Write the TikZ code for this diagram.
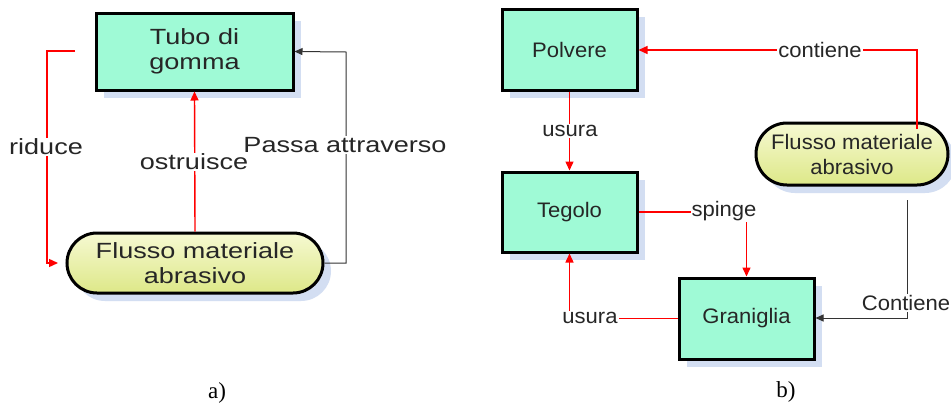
\documentclass[tikz,border=0pt]{standalone}
\usepackage{fontspec}
\setmainfont{Liberation Sans}
\newfontfamily\lfont[FakeStretch=1.23]{Liberation Sans}
\newfontfamily\rfont[FakeStretch=1.05]{Liberation Sans}
\newfontfamily\capfont{Liberation Serif}
\usetikzlibrary{arrows.meta,shapes.misc,shadows}
\definecolor{mint}{HTML}{9FFAD6}
\definecolor{shad}{HTML}{D3DEF2}
\definecolor{txt}{HTML}{262626}
\definecolor{yelT}{HTML}{F6F9D2}
\definecolor{yelB}{HTML}{DDE888}
\definecolor{conn}{HTML}{333333}
\begin{document}
\begin{tikzpicture}[x=1pt,y=-1pt,
  boxnode/.style={draw=black,line width=3pt,fill=mint,rectangle,text=txt,align=center,
    general shadow={fill=shad,shadow xshift=8pt,shadow yshift=-8pt}},
  pillnode/.style={draw=black,line width=3pt,rounded rectangle,top color=yelT,bottom color=yelB,
    text=txt,align=center,
    general shadow={fill=shad,shadow xshift=8pt,shadow yshift=-8pt}},
  redarrow/.style={draw=red,line width=1.4pt,-{Triangle[length=9pt,width=8pt]}},
  blackarrow/.style={draw=conn,line width=1pt,-{Triangle[length=8pt,width=7pt]}},
  lblL/.style={fill=white,inner sep=1pt,text=txt,font=\lfont\fontsize{22}{25}\selectfont},
  lblR/.style={fill=white,inner sep=1pt,text=txt,font=\rfont\fontsize{21}{24}\selectfont},
  capnode/.style={font=\capfont\fontsize{23}{26}\selectfont,text=black}
]
\useasboundingbox (0,0) rectangle (951,410);
\fill[white] (0,0) rectangle (951,410);

% ---------- panel a ----------
\node[boxnode,minimum width=197pt,minimum height=77pt,font=\lfont\fontsize{22}{25}\selectfont] (tubo) at (194.5,51.5) {Tubo di\\gomma};
\node[pillnode,minimum width=256pt,minimum height=60pt,inner sep=0pt,font=\lfont\fontsize{22}{25}\selectfont] (flA) at (195,263) {Flusso materiale\\abrasivo};

\draw[redarrow] (flA.north) -- (tubo.south);
\node[lblL] (ostr) at (194,162) {ostruisce};

\coordinate (rs) at (75,51);
\coordinate (rc1) at (47,51);
\coordinate (rc2) at (47,263);
\coordinate (re) at (58,263);
\draw[redarrow] (rs) -- (rc1) -- (rc2) -- (re);
\node[lblL] (rid) at (46,147) {riduce};

\coordinate (pa) at (346,52);
\draw[blackarrow] (flA.east) -| (pa) -- (tubo.east);
\node[lblL] (pass) at (345,145) {Passa attraverso};

\node[capnode] (capa) at (217,393) {a)};

% ---------- panel b ----------
\node[boxnode,minimum width=135pt,minimum height=81pt,font=\rfont\fontsize{21}{25}\selectfont] (polv) at (569.5,49.5) {Polvere};
\node[boxnode,minimum width=135pt,minimum height=80pt,font=\rfont\fontsize{21}{25}\selectfont] (teg) at (569.5,212) {Tegolo};
\node[boxnode,minimum width=135pt,minimum height=81pt,font=\rfont\fontsize{21}{25}\selectfont] (gran) at (746.5,318.5) {Graniglia};
\node[pillnode,minimum width=192pt,minimum height=62pt,inner sep=0pt,font=\rfont\fontsize{21}{25}\selectfont] (flB) at (852,154) {Flusso materiale\\abrasivo};

\coordinate (cs) at (917,129);
\coordinate (cc) at (917,50);
\draw[redarrow] (cs) -- (cc) -- (polv.east |- cc);
\node[lblR] (cont) at (820,50) {contiene};

\draw[redarrow] (polv.south) -- (teg.north);
\node[lblR] (us1) at (570,131) {usura};

\draw[redarrow] (teg.east) -| (gran.north);
\node[lblR] (sp) at (724,211) {spinge};

\draw[redarrow] (gran.west) -| (teg.south);
\node[lblR] (us2) at (590,318) {usura};

\coordinate (ks) at (907,200);
\coordinate (kc) at (907,318);
\draw[blackarrow] (ks) -- (kc) -- (gran.east |- kc);
\node[lblR] (cont2) at (906,303) {Contiene};

\node[capnode] (capb) at (786,392) {b)};
\end{tikzpicture}
\end{document}
